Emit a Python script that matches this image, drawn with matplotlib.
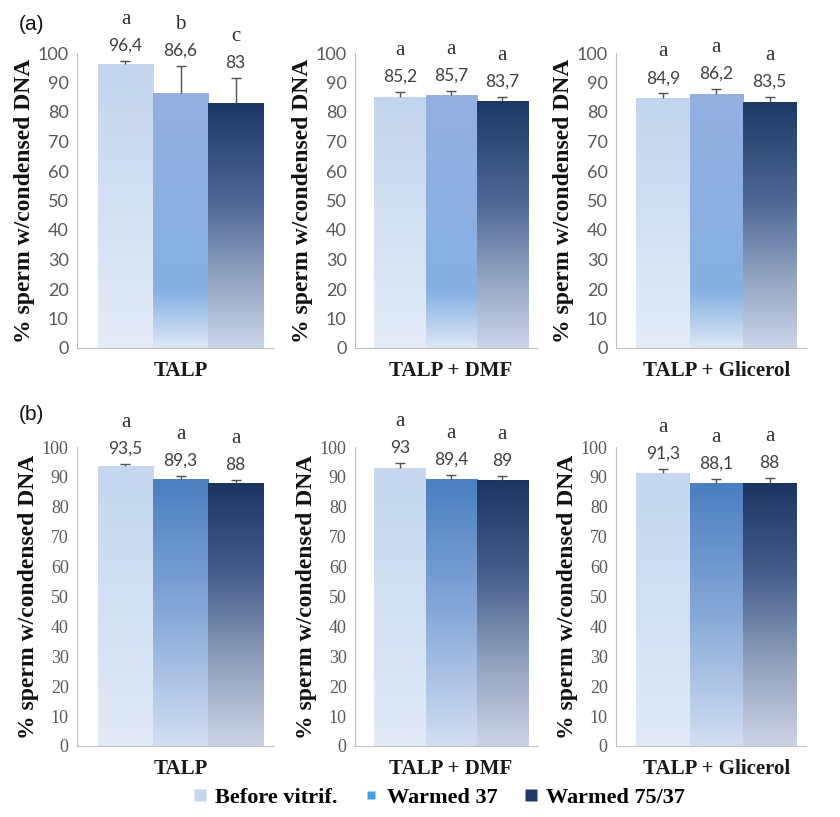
import matplotlib
matplotlib.use('Agg')
import matplotlib.pyplot as plt
import numpy as np
from matplotlib.colors import LinearSegmentedColormap
from matplotlib.lines import Line2D

groups = ['TALP', 'TALP + DMF', 'TALP + Glicerol']
series = ['Before vitrif.', 'Warmed 37', 'Warmed 75/37']

# (a) values, upper error and letters per group
a_values = [[96.4, 86.6, 83.0], [85.2, 85.7, 83.7], [84.9, 86.2, 83.5]]
a_errors = [[0.8, 9.0, 8.5], [1.5, 1.5, 1.3], [1.4, 1.6, 1.5]]
a_letters = [['a', 'b', 'c'], ['a', 'a', 'a'], ['a', 'a', 'a']]
a_text = [['96,4', '86,6', '83'], ['85,2', '85,7', '83,7'], ['84,9', '86,2', '83,5']]

# (b)
b_values = [[93.5, 89.3, 88.0], [93.0, 89.4, 89.0], [91.3, 88.1, 88.0]]
b_errors = [[0.9, 0.9, 0.9], [1.6, 1.2, 1.2], [1.3, 1.2, 1.6]]
b_letters = [['a', 'a', 'a'], ['a', 'a', 'a'], ['a', 'a', 'a']]
b_text = [['93,5', '89,3', '88'], ['93', '89,4', '89'], ['91,3', '88,1', '88']]

# gradient stops (bottom -> top of the bar)
a_grads = [
    [(0, '#e4ecf7'), (1, '#c3d5ee')],
    [(0, '#dde7f5'), (0.22, '#86b1e3'), (1, '#93afe0')],
    [(0, '#cbd5ea'), (0.25, '#9aa9c6'), (0.6, '#4e6893'), (1, '#1d3864')],
]
b_grads = [
    [(0, '#e2eaf6'), (1, '#c4d7ef')],
    [(0, '#d3def2'), (0.5, '#86a8d8'), (1, '#4a7ec0')],
    [(0, '#ccd3e5'), (0.3, '#95a3c0'), (0.65, '#465f8a'), (1, '#1b3560')],
]

serif = 'Liberation Serif'
sans = 'Lato'

fig = plt.figure(figsize=(8.4, 8.17), dpi=100)

col_left = [77, 355, 616]
col_width = [196, 182, 190]
rows = [(348, 53), (746, 447)]  # pixel y of 0 and 100


def draw_panel(ax, values, errors, letters, texts, grads, name, tick_font):
    x = np.arange(3)
    tops = np.array(values) + np.array(errors)
    bars = ax.bar(x, values, width=1.0, facecolor='none', edgecolor='none', zorder=2)
    ramp = np.linspace(0, 1, 256).reshape(-1, 1)
    for rect, stops in zip(bars, grads):
        cmap = LinearSegmentedColormap.from_list('g', stops)
        x0 = rect.get_x()
        im = ax.imshow(ramp, cmap=cmap, origin='lower', aspect='auto',
                       extent=[x0, x0 + rect.get_width(), 0, rect.get_height()],
                       zorder=1, interpolation='bilinear')
        im.set_clip_path(rect)
    # only the upper half of the error bar, as in the original
    ax.vlines(x, values, tops, color='#505050', lw=1.0, zorder=3)
    ax.plot(x, tops, linestyle='none', marker='_', markersize=7,
            markeredgewidth=1.0, color='#505050', zorder=3)
    for xi, t_y, let, t in zip(x, tops, letters, texts):
        ax.annotate(t, (xi, t_y), xytext=(0, 11), textcoords='offset points',
                    ha='center', va='center', fontsize=12.5, family=sans,
                    color='#404040', annotation_clip=False)
        ax.annotate(let, (xi, t_y), xytext=(0, 30), textcoords='offset points',
                    ha='center', va='center', fontsize=15, family=serif,
                    color='#303030', annotation_clip=False)
    ax.set_xlim(-0.88, 2.68)
    ax.set_ylim(0, 100)
    ax.set_yticks(np.arange(0, 101, 10))
    ax.set_xticks([1])
    ax.set_xticklabels([name], fontsize=15, family=serif, fontweight='bold', color='#1a1a1a')
    ax.tick_params(axis='x', length=0, pad=9)
    ax.tick_params(axis='y', length=0, pad=6, labelcolor='#595959', labelsize=13)
    for lab in ax.get_yticklabels():
        lab.set_family(tick_font)
    for s in ['top', 'right']:
        ax.spines[s].set_visible(False)
    ax.spines['left'].set_color('#bfbfbf')
    ax.spines['bottom'].set_color('#bfbfbf')
    ax.set_ylabel('% sperm w/condensed DNA', fontsize=17, family=serif,
                  fontweight='bold', color='#111111', labelpad=2)


data = [(a_values, a_errors, a_letters, a_text, a_grads, sans),
        (b_values, b_errors, b_letters, b_text, b_grads, serif)]

for (y0, y100), (vals, errs, lets, txts, grads, tfont) in zip(rows, data):
    for i in range(3):
        ax = fig.add_axes([col_left[i] / 840, 1 - y0 / 817,
                           col_width[i] / 840, (y0 - y100) / 817])
        draw_panel(ax, vals[i], errs[i], lets[i], txts[i], grads, groups[i], tfont)

fig.text(0.037, 1 - 24 / 817, '(a)', fontsize=15, family='Liberation Sans',
         ha='center', va='center', color='#111111')
fig.text(0.037, 1 - 414 / 817, '(b)', fontsize=15, family='Liberation Sans',
         ha='center', va='center', color='#111111')

handles = [
    Line2D([], [], marker='s', linestyle='none', markersize=9,
           markerfacecolor='#c5d7ef', markeredgecolor='none'),
    Line2D([], [], marker='s', linestyle='none', markersize=6,
           markerfacecolor='#41a1dc', markeredgecolor='none'),
    Line2D([], [], marker='s', linestyle='none', markersize=9,
           markerfacecolor='#1f3864', markeredgecolor='none'),
]
fig.legend(handles, series, loc='center', bbox_to_anchor=(0.52, 1 - 798 / 817),
           ncol=3, frameon=False, handletextpad=0.2, columnspacing=1.0,
           handlelength=1.0, prop={'family': serif, 'weight': 'bold', 'size': 16})

fig.savefig('out.png', dpi=100, facecolor='white')
